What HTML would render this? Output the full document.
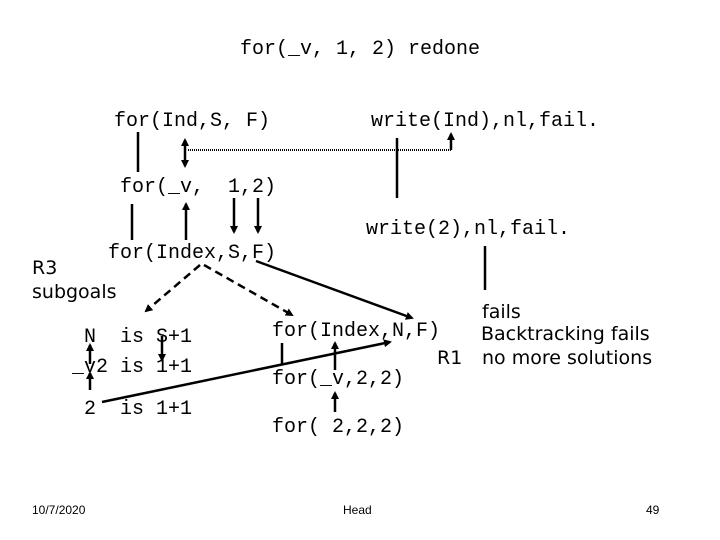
<!DOCTYPE html>
<html><head><style>
body{margin:0;background:#fff;}
svg{display:block}
.m{font-family:"Liberation Mono",monospace;font-size:20px;fill:#000}
.s{font-family:"DejaVu Sans","Liberation Sans",sans-serif;font-size:19px;fill:#000}
.f{font-family:"Liberation Sans",sans-serif;font-size:12px;fill:#000}
line{stroke:#000;stroke-width:2.5}
</style></head><body>
<svg width="720" height="540" viewBox="0 0 720 540">
<defs><marker id="a" markerWidth="8" markerHeight="8" refX="6" refY="4" orient="auto-start-reverse" markerUnits="userSpaceOnUse"><path d="M0,0 L8,4 L0,8 z" fill="#000"/></marker></defs>
<text class="m" x="240" y="54">for(_v, 1, 2) redone</text>
<text class="m" x="114" y="126">for(Ind,S, F)</text>
<text class="m" x="371" y="126">write(Ind),nl,fail.</text>
<text class="m" x="120" y="192" xml:space="preserve">for(_v,  1,2)</text>
<text class="m" x="366" y="234">write(2),nl,fail.</text>
<text class="m" x="108" y="258">for(Index,S,F)</text>
<text class="s" x="32" y="274">R3</text>
<text class="s" x="32" y="298">subgoals</text>
<text class="m" x="84" y="342" xml:space="preserve">N  is S+1</text>
<text class="m" x="72" y="372">_v2 is 1+1</text>
<text class="m" x="84" y="414" xml:space="preserve">2  is 1+1</text>
<text class="m" x="272" y="336">for(Index,N,F)</text>
<text class="m" x="272" y="384">for(_v,2,2)</text>
<text class="m" x="272" y="432">for( 2,2,2)</text>
<text class="s" x="482" y="318">fails</text>
<text class="s" x="481" y="340">Backtracking fails</text>
<text class="s" x="437" y="364">R1</text>
<text class="s" x="482" y="364">no more solutions</text>
<text class="f" x="32" y="514">10/7/2020</text>
<text class="f" x="343" y="514">Head</text>
<text class="f" x="646" y="514">49</text>
<line x1="138" y1="132" x2="138" y2="172"/>
<line x1="185" y1="140" x2="185" y2="166" marker-start="url(#a)" marker-end="url(#a)"/>
<line x1="188" y1="150" x2="451" y2="150" stroke-dasharray="1,1" style="stroke-width:2"/>
<line x1="451" y1="150" x2="451" y2="134" marker-end="url(#a)"/>
<line x1="397" y1="138" x2="397" y2="198"/>
<line x1="132" y1="204" x2="132" y2="240"/>
<line x1="186" y1="240" x2="186" y2="204" marker-end="url(#a)"/>
<line x1="234" y1="198" x2="234" y2="232" marker-end="url(#a)"/>
<line x1="258" y1="198" x2="258" y2="232" marker-end="url(#a)"/>
<line x1="485" y1="246" x2="485" y2="290"/>
<line x1="200" y1="265" x2="146" y2="311" stroke-dasharray="8,5" marker-end="url(#a)"/>
<line x1="204" y1="265" x2="292" y2="315" stroke-dasharray="8,5" marker-end="url(#a)"/>
<line x1="256" y1="261" x2="412" y2="318" marker-end="url(#a)"/>
<line x1="90" y1="364" x2="90" y2="345" marker-end="url(#a)"/>
<line x1="90" y1="390" x2="90" y2="373" marker-end="url(#a)"/>
<line x1="162" y1="336" x2="162" y2="360" marker-end="url(#a)"/>
<line x1="102" y1="402" x2="390" y2="342" marker-end="url(#a)"/>
<line x1="282" y1="343" x2="282" y2="365"/>
<line x1="335" y1="370" x2="335" y2="343" marker-end="url(#a)"/>
<line x1="335" y1="412" x2="335" y2="393" marker-end="url(#a)"/>
</svg>
</body></html>
